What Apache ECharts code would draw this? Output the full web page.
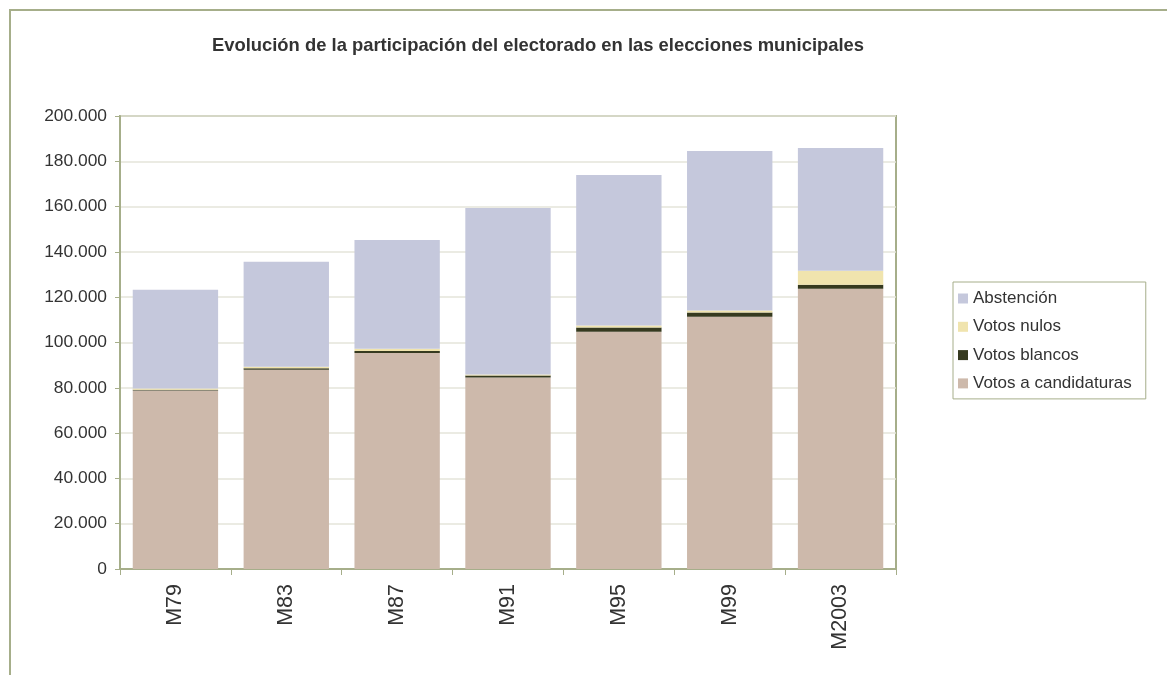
<!DOCTYPE html>
<html><head><meta charset="utf-8">
<script src="https://cdn.jsdelivr.net/npm/echarts@6/dist/echarts.min.js"></script>
<style>html,body{margin:0;padding:0;background:#fff}#c{width:1167px;height:675px}</style>
</head><body><div id="c"></div>
<script>
var categories = ["M79","M83","M87","M91","M95","M99","M2003"];
var votosCandidaturas = [78800, 88000, 95400, 84500, 104800, 111400, 123700];
var votosBlancos = [300, 600, 900, 900, 1800, 1800, 1800];
var votosNulos = [600, 700, 900, 450, 900, 900, 6200];
var abstencion = [43600, 46300, 48100, 73550, 66500, 70400, 54150];
var seriesNames = ["Votos a candidaturas","Votos blancos","Votos nulos","Abstención"];
var legendOrder = ["Abstención","Votos nulos","Votos blancos","Votos a candidaturas"];
var colors = ["#cdb9ab","#363a1f","#f0e4ae","#c5c8dc"];
var seriesData = [votosCandidaturas, votosBlancos, votosNulos, abstencion];

var border = "#a6ae8a";
var font = "Liberation Sans, Arial, sans-serif";
function fmt(v){ return String(v).replace(/\B(?=(\d{3})+(?!\d))/g, "."); }

var chart = echarts.init(document.getElementById('c'));
chart.setOption({
  animation: false,
  graphic: [{type:'rect', shape:{x:10,y:10,width:1300,height:800}, style:{fill:'none', stroke:border, lineWidth:2}, silent:true}],
  title: {text: "Evolución de la participación del electorado en las elecciones municipales",
    left: 533, top: 32, textAlign: 'center',
    textStyle: {fontFamily: font, fontSize: 18.4, fontWeight: 'bold', color: '#333'}},
  legend: {orient: 'vertical', left: 953, top: 282, data: legendOrder,
    icon: 'rect', itemWidth: 10, itemHeight: 10, itemGap: 11.3,
    padding: [8, 14, 7, 5], borderColor: border, borderWidth: 1,
    textStyle: {fontFamily: font, fontSize: 17, color: '#333'}},
  grid: {left: 120, top: 116, width: 776, height: 453, show: true, borderColor: border, borderWidth: 2},
  xAxis: {type: 'category', data: categories,
    axisLine: {lineStyle: {color: border, width: 2}},
    axisTick: {show: true, length: 6, lineStyle: {color: border, width: 1}},
    axisLabel: {rotate: 90, margin: 15, fontFamily: font, fontSize: 21.5, color: '#333'}},
  yAxis: {type: 'value', min: 0, max: 200000, interval: 20000,
    axisLine: {show: true, lineStyle: {color: border, width: 2}},
    axisTick: {show: true, length: 5, lineStyle: {color: border}},
    splitLine: {lineStyle: {color: '#e4e4da', width: 1.5}},
    axisLabel: {margin: 13, fontFamily: font, fontSize: 17.4, color: '#333', formatter: fmt}},
  series: seriesNames.map(function(n, i){
    return {name: n, type: 'bar', stack: 'total', data: seriesData[i], barCategoryGap: '23%',
      itemStyle: {color: colors[i]}};
  })
});
</script></body></html>
